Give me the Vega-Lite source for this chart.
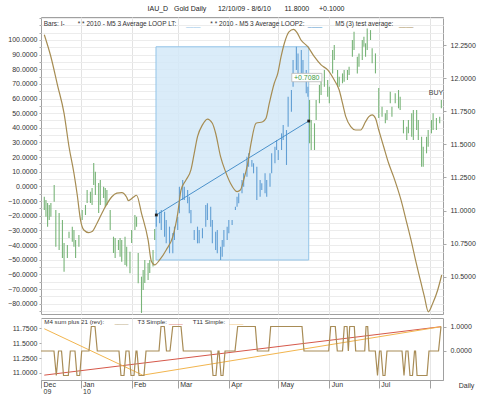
{
  "$schema": "https://vega.github.io/schema/vega-lite/v6.json",
  "background": "white",
  "padding": {"left": 4, "right": 4, "top": 4, "bottom": 0},
  "title": {"text": "IAU_D\u00a0\u00a0\u00a0Gold Daily\u00a0\u00a0\u00a0\u00a0\u00a0\u00a012/10/09 - 8/6/10\u00a0\u00a0\u00a0\u00a0\u00a0\u00a0\u00a011.8000\u00a0\u00a0\u00a0\u00a0\u00a0+0.1000", "fontSize": 7, "fontWeight": "normal", "color": "#222", "anchor": "middle", "offset": 5},
  "config": {
    "view": {"stroke": "#a0a0a0", "strokeWidth": 1},
    "axis": {"labelFont": "Liberation Sans", "labelFontSize": 7, "labelColor": "#333", "tickColor": "#aaa", "domain": false, "titleFont": "Liberation Sans"},
    "text": {"font": "Liberation Sans"},
    "title": {"font": "Liberation Sans"}
  },
  "spacing": 2,
  "datasets": {
    "bars": [
      {"d":"2009-12-10","hi":11.104,"lo":11.004},{"d":"2009-12-11","hi":11.079,"lo":10.953},{"d":"2009-12-12","hi":11.057,"lo":10.878},{"d":"2009-12-13","hi":11.042,"lo":10.928},{"d":"2009-12-14","hi":11.057,"lo":10.953},{"d":"2009-12-16","hi":11.193,"lo":11.067},{"d":"2009-12-17","hi":11.004,"lo":10.727},{"d":"2009-12-19","hi":10.981,"lo":10.702},{"d":"2009-12-21","hi":10.928,"lo":10.641},{"d":"2009-12-22","hi":10.755,"lo":10.538},{"d":"2009-12-24","hi":10.739,"lo":10.641},{"d":"2009-12-25","hi":10.840,"lo":10.792},{"d":"2009-12-27","hi":10.878,"lo":10.764},{"d":"2009-12-28","hi":10.853,"lo":10.727},{"d":"2009-12-29","hi":10.777,"lo":10.641},{"d":"2009-12-31","hi":10.815,"lo":10.727},
      {"d":"2010-01-02","hi":11.004,"lo":10.928},{"d":"2010-01-04","hi":11.042,"lo":10.966},{"d":"2010-01-05","hi":11.155,"lo":11.057},{"d":"2010-01-07","hi":11.142,"lo":11.057},{"d":"2010-01-08","hi":11.170,"lo":11.042},{"d":"2010-01-09","hi":11.359,"lo":11.193},{"d":"2010-01-10","hi":11.293,"lo":11.117},{"d":"2010-01-12","hi":11.208,"lo":10.981},{"d":"2010-01-13","hi":11.230,"lo":11.042},{"d":"2010-01-15","hi":11.180,"lo":11.095},{"d":"2010-01-16","hi":11.170,"lo":11.029},{"d":"2010-01-17","hi":11.155,"lo":11.042},{"d":"2010-01-19","hi":11.004,"lo":10.853},{"d":"2010-01-21","hi":10.802,"lo":10.679},{"d":"2010-01-22","hi":10.792,"lo":10.641},{"d":"2010-01-24","hi":10.777,"lo":10.702},{"d":"2010-01-25","hi":10.792,"lo":10.651},{"d":"2010-01-26","hi":10.777,"lo":10.613},{"d":"2010-01-28","hi":10.802,"lo":10.588},{"d":"2010-01-29","hi":10.727,"lo":10.576},{"d":"2010-01-31","hi":10.689,"lo":10.526},
      {"d":"2010-02-01","hi":10.853,"lo":10.755},{"d":"2010-02-03","hi":10.966,"lo":10.853},{"d":"2010-02-04","hi":10.953,"lo":10.878},{"d":"2010-02-05","hi":10.679,"lo":10.450},{"d":"2010-02-07","hi":10.500,"lo":10.226},{"d":"2010-02-08","hi":10.551,"lo":10.400},{"d":"2010-02-09","hi":10.626,"lo":10.452},{"d":"2010-02-11","hi":10.604,"lo":10.475},{"d":"2010-02-12","hi":10.626,"lo":10.528},{"d":"2010-02-14","hi":10.702,"lo":10.576},{"d":"2010-02-15","hi":10.860,"lo":10.777},
      {"d":"2010-02-16","hi":11.004,"lo":10.878},{"d":"2010-02-18","hi":10.991,"lo":10.903},{"d":"2010-02-19","hi":11.004,"lo":10.853},{"d":"2010-02-21","hi":10.991,"lo":10.802},{"d":"2010-02-22","hi":10.928,"lo":10.752},{"d":"2010-02-24","hi":10.878,"lo":10.677},{"d":"2010-02-26","hi":10.830,"lo":10.677},{"d":"2010-02-27","hi":10.878,"lo":10.777},
      {"d":"2010-03-01","hi":10.953,"lo":10.853},{"d":"2010-03-02","hi":11.180,"lo":10.979},{"d":"2010-03-04","hi":11.230,"lo":11.079},{"d":"2010-03-05","hi":11.180,"lo":11.079},{"d":"2010-03-07","hi":11.155,"lo":11.054},{"d":"2010-03-08","hi":11.104,"lo":10.979},{"d":"2010-03-09","hi":11.004,"lo":10.903},{"d":"2010-03-11","hi":10.853,"lo":10.777},{"d":"2010-03-13","hi":10.878,"lo":10.752},{"d":"2010-03-14","hi":10.853,"lo":10.752},{"d":"2010-03-16","hi":10.866,"lo":10.790},{"d":"2010-03-18","hi":11.042,"lo":10.878},{"d":"2010-03-19","hi":11.054,"lo":10.928},{"d":"2010-03-21","hi":11.029,"lo":10.878},{"d":"2010-03-22","hi":10.928,"lo":10.752},{"d":"2010-03-24","hi":10.840,"lo":10.702},{"d":"2010-03-25","hi":10.853,"lo":10.677},{"d":"2010-03-27","hi":10.727,"lo":10.626},{"d":"2010-03-28","hi":10.777,"lo":10.651},{"d":"2010-03-29","hi":10.853,"lo":10.727},{"d":"2010-03-31","hi":10.878,"lo":10.777},
      {"d":"2010-04-01","hi":10.928,"lo":10.828},{"d":"2010-04-03","hi":10.928,"lo":10.891},{"d":"2010-04-05","hi":11.029,"lo":11.004},{"d":"2010-04-06","hi":11.104,"lo":11.029},{"d":"2010-04-07","hi":11.130,"lo":11.054},{"d":"2010-04-09","hi":11.230,"lo":11.130},{"d":"2010-04-10","hi":11.281,"lo":11.180},{"d":"2010-04-12","hi":11.406,"lo":11.255},{"d":"2010-04-13","hi":11.432,"lo":11.331},{"d":"2010-04-15","hi":11.382,"lo":11.331},{"d":"2010-04-16","hi":11.357,"lo":11.281},{"d":"2010-04-18","hi":11.331,"lo":11.079},{"d":"2010-04-20","hi":11.230,"lo":11.104},{"d":"2010-04-21","hi":11.206,"lo":11.155},{"d":"2010-04-23","hi":11.281,"lo":11.130},{"d":"2010-04-24","hi":11.230,"lo":11.104},{"d":"2010-04-26","hi":11.281,"lo":11.180},{"d":"2010-04-27","hi":11.432,"lo":11.281},{"d":"2010-04-29","hi":11.482,"lo":11.357},{"d":"2010-04-30","hi":11.533,"lo":11.457},
      {"d":"2010-05-01","hi":11.457,"lo":11.382},{"d":"2010-05-03","hi":11.583,"lo":11.457},{"d":"2010-05-04","hi":11.646,"lo":11.533},{"d":"2010-05-06","hi":11.608,"lo":11.344},{"d":"2010-05-07","hi":11.860,"lo":11.633},{"d":"2010-05-09","hi":11.910,"lo":11.746},{"d":"2010-05-10","hi":12.137,"lo":11.935},{"d":"2010-05-12","hi":12.237,"lo":12.061},{"d":"2010-05-13","hi":12.187,"lo":12.011},{"d":"2010-05-15","hi":12.212,"lo":12.036},{"d":"2010-05-16","hi":12.137,"lo":11.986},{"d":"2010-05-18","hi":12.061,"lo":11.885},{"d":"2010-05-19","hi":11.935,"lo":11.860},
      {"d":"2010-05-20","hi":11.835,"lo":11.508},{"d":"2010-05-21","hi":11.684,"lo":11.457},{"d":"2010-05-23","hi":11.659,"lo":11.457},{"d":"2010-05-24","hi":11.835,"lo":11.684},{"d":"2010-05-26","hi":11.948,"lo":11.810},{"d":"2010-05-27","hi":12.011,"lo":11.872},{"d":"2010-05-29","hi":12.061,"lo":11.935},{"d":"2010-05-31","hi":11.986,"lo":11.860},
      {"d":"2010-06-01","hi":11.935,"lo":11.810},{"d":"2010-06-03","hi":12.212,"lo":12.036},{"d":"2010-06-04","hi":12.250,"lo":12.137},{"d":"2010-06-06","hi":12.061,"lo":11.935},{"d":"2010-06-07","hi":12.011,"lo":11.935},{"d":"2010-06-09","hi":12.036,"lo":11.961},{"d":"2010-06-10","hi":12.061,"lo":11.973},{"d":"2010-06-12","hi":12.061,"lo":11.986},{"d":"2010-06-13","hi":12.086,"lo":12.024},{"d":"2010-06-15","hi":12.288,"lo":12.162},{"d":"2010-06-16","hi":12.351,"lo":12.212},{"d":"2010-06-18","hi":12.162,"lo":12.036},{"d":"2010-06-19","hi":12.187,"lo":12.086},{"d":"2010-06-21","hi":12.288,"lo":12.137},{"d":"2010-06-22","hi":12.313,"lo":12.237},{"d":"2010-06-23","hi":12.263,"lo":12.162},{"d":"2010-06-24","hi":12.376,"lo":12.212},{"d":"2010-06-26","hi":12.363,"lo":12.288},{"d":"2010-06-27","hi":12.225,"lo":12.112},{"d":"2010-06-29","hi":12.187,"lo":12.036},
      {"d":"2010-07-01","hi":11.925,"lo":11.699},{"d":"2010-07-03","hi":11.784,"lo":11.709},{"d":"2010-07-05","hi":11.734,"lo":11.659},{"d":"2010-07-06","hi":11.759,"lo":11.684},{"d":"2010-07-08","hi":11.897,"lo":11.810},{"d":"2010-07-09","hi":11.784,"lo":11.709},{"d":"2010-07-11","hi":11.885,"lo":11.810},{"d":"2010-07-13","hi":11.910,"lo":11.772},{"d":"2010-07-14","hi":11.860,"lo":11.759},{"d":"2010-07-16","hi":11.684,"lo":11.583},{"d":"2010-07-18","hi":11.633,"lo":11.533},{"d":"2010-07-19","hi":11.684,"lo":11.583},{"d":"2010-07-21","hi":11.734,"lo":11.557},{"d":"2010-07-22","hi":11.759,"lo":11.533},{"d":"2010-07-24","hi":11.759,"lo":11.608},{"d":"2010-07-25","hi":11.684,"lo":11.533},{"d":"2010-07-27","hi":11.557,"lo":11.331},{"d":"2010-07-28","hi":11.482,"lo":11.331},{"d":"2010-07-30","hi":11.557,"lo":11.432},{"d":"2010-07-31","hi":11.608,"lo":11.482},
      {"d":"2010-08-02","hi":11.684,"lo":11.583},{"d":"2010-08-03","hi":11.734,"lo":11.608},{"d":"2010-08-05","hi":11.699,"lo":11.608},{"d":"2010-08-07","hi":11.709,"lo":11.659},{"d":"2010-08-08","hi":11.835,"lo":11.772}
    ],
    "osc": [
      {"d":"2009-12-10","v":103.5},{"d":"2009-12-14","v":88.5},{"d":"2009-12-18","v":69.2},{"d":"2009-12-22","v":49.9},{"d":"2009-12-25","v":27.1},{"d":"2009-12-28","v":9.0},{"d":"2009-12-30","v":-5.8},{"d":"2010-01-01","v":-22.9},{"d":"2010-01-03","v":-29.7},{"d":"2010-01-06","v":-31.5},{"d":"2010-01-08","v":-30.8},{"d":"2010-01-11","v":-25.1},{"d":"2010-01-15","v":-16.0},{"d":"2010-01-20","v":-7.0},{"d":"2010-01-23","v":-4.6},{"d":"2010-01-26","v":-4.2},{"d":"2010-01-29","v":-7.4},{"d":"2010-01-30","v":-9.7},{"d":"2010-02-02","v":-7.4},{"d":"2010-02-04","v":-6.0},{"d":"2010-02-07","v":-18.3},{"d":"2010-02-11","v":-36.5},{"d":"2010-02-13","v":-51.0},{"d":"2010-02-15","v":-53.5},{"d":"2010-02-18","v":-50.1},{"d":"2010-02-22","v":-43.3},{"d":"2010-02-26","v":-34.2},{"d":"2010-03-01","v":-18.3},{"d":"2010-03-03","v":-2.4},{"d":"2010-03-06","v":4.4},{"d":"2010-03-09","v":11.3},{"d":"2010-03-11","v":22.6},{"d":"2010-03-13","v":34.0},{"d":"2010-03-16","v":42.0},{"d":"2010-03-19","v":46.0},{"d":"2010-03-22","v":43.1},{"d":"2010-03-24","v":36.3},{"d":"2010-03-27","v":20.3},{"d":"2010-03-30","v":10.1},{"d":"2010-04-02","v":2.2},{"d":"2010-04-06","v":-3.5},{"d":"2010-04-08","v":-2.4},{"d":"2010-04-10","v":4.4},{"d":"2010-04-12T12:00:00Z","v":15.8},{"d":"2010-04-14T12:00:00Z","v":29.5},{"d":"2010-04-17T12:00:00Z","v":43.1},{"d":"2010-04-21T14:00:00Z","v":44.2},{"d":"2010-04-23T14:00:00Z","v":46.5},{"d":"2010-04-25T14:00:00Z","v":56.8},{"d":"2010-04-28T14:00:00Z","v":70.4},{"d":"2010-04-30T17:00:00Z","v":77.2},{"d":"2010-05-02T17:00:00Z","v":88.5},{"d":"2010-05-04T17:00:00Z","v":97.7},{"d":"2010-05-07T12:00:00Z","v":105.5},{"d":"2010-05-10T07:00:00Z","v":107.2},{"d":"2010-05-12T10:00:00Z","v":105.0},{"d":"2010-05-14T19:00:00Z","v":99.9},{"d":"2010-05-18T22:00:00Z","v":95.4},{"d":"2010-05-22T22:00:00Z","v":88.5},{"d":"2010-05-27","v":82.9},{"d":"2010-05-31","v":79.5},{"d":"2010-06-04","v":72.6},{"d":"2010-06-07","v":65.8},{"d":"2010-06-09","v":56.8},{"d":"2010-06-11","v":47.6},{"d":"2010-06-14","v":40.8},{"d":"2010-06-17","v":38.5},{"d":"2010-06-20","v":38.5},{"d":"2010-06-23","v":44.2},{"d":"2010-06-25","v":47.6},{"d":"2010-06-27","v":48.8},{"d":"2010-06-29","v":46.5},{"d":"2010-07-01","v":38.5},{"d":"2010-07-04","v":27.1},{"d":"2010-07-07","v":15.8},{"d":"2010-07-10","v":6.7},{"d":"2010-07-14T12:00:00Z","v":-9.2},{"d":"2010-07-17T14:00:00Z","v":-22.9},{"d":"2010-07-20T14:00:00Z","v":-36.5},{"d":"2010-07-23T14:00:00Z","v":-51.5},{"d":"2010-07-26T17:00:00Z","v":-66.0},{"d":"2010-07-28T17:00:00Z","v":-75.2},{"d":"2010-07-31T02:00:00Z","v":-85.5},{"d":"2010-08-02T19:00:00Z","v":-79.7},{"d":"2010-08-05T19:00:00Z","v":-70.6},{"d":"2010-08-08T05:00:00Z","v":-60.4}
    ],
    "step": [
      {"d":"2009-12-08T00:00:00Z","s":0},{"d":"2009-12-15T21:00:00Z","s":0},{"d":"2009-12-17T07:00:00Z","s":-1},{"d":"2009-12-18T15:00:00Z","s":0},{"d":"2009-12-20T11:00:00Z","s":0},{"d":"2009-12-21T16:00:00Z","s":-1},{"d":"2009-12-24T14:00:00Z","s":-1},{"d":"2009-12-25T19:00:00Z","s":0},{"d":"2009-12-28T15:00:00Z","s":0},{"d":"2009-12-29T20:00:00Z","s":-1},{"d":"2009-12-31T12:00:00Z","s":-1},{"d":"2010-01-01T17:00:00Z","s":0},{"d":"2010-01-06T03:00:00Z","s":0},{"d":"2010-01-07T13:00:00Z","s":1},{"d":"2010-01-09T19:00:00Z","s":1},{"d":"2010-01-11T04:00:00Z","s":0},{"d":"2010-01-24T08:00:00Z","s":0},{"d":"2010-01-25T13:00:00Z","s":-1},{"d":"2010-01-27T09:00:00Z","s":-1},{"d":"2010-01-28T14:00:00Z","s":0},{"d":"2010-01-30T10:00:00Z","s":0},{"d":"2010-01-31T15:00:00Z","s":-1},{"d":"2010-02-02T11:00:00Z","s":-1},{"d":"2010-02-03T16:00:00Z","s":0},{"d":"2010-02-04T06:00:00Z","s":0},{"d":"2010-02-05T12:00:00Z","s":-1},{"d":"2010-02-08T12:00:00Z","s":-1},{"d":"2010-02-09T18:00:00Z","s":0},{"d":"2010-02-17T15:00:00Z","s":0},{"d":"2010-02-18T20:00:00Z","s":1},{"d":"2010-02-20T20:00:00Z","s":1},{"d":"2010-02-22T04:00:00Z","s":0},{"d":"2010-02-24T07:00:00Z","s":0},{"d":"2010-02-25T23:00:00Z","s":1},{"d":"2010-03-02T23:30:00Z","s":1},{"d":"2010-03-04T09:00:00Z","s":0},{"d":"2010-03-21T05:00:00Z","s":0},{"d":"2010-03-22T10:00:00Z","s":-1},{"d":"2010-03-24T05:00:00Z","s":-1},{"d":"2010-03-25T11:00:00Z","s":0},{"d":"2010-03-26T01:00:00Z","s":0},{"d":"2010-03-27T06:00:00Z","s":-1},{"d":"2010-03-28T11:00:00Z","s":-1},{"d":"2010-03-29T17:00:00Z","s":0},{"d":"2010-04-04T18:00:00Z","s":0},{"d":"2010-04-06T09:00:00Z","s":1},{"d":"2010-04-17T02:00:00Z","s":1},{"d":"2010-04-18T07:00:00Z","s":0},{"d":"2010-04-25T05:00:00Z","s":0},{"d":"2010-04-26T10:00:00Z","s":1},{"d":"2010-05-15T10:00:00Z","s":1},{"d":"2010-05-16T15:00:00Z","s":0},{"d":"2010-05-31T15:00:00Z","s":0},{"d":"2010-06-01T20:00:00Z","s":1},{"d":"2010-06-04T15:00:00Z","s":1},{"d":"2010-06-05T20:00:00Z","s":0},{"d":"2010-06-09T00:00:00Z","s":0},{"d":"2010-06-10T02:00:00Z","s":1},{"d":"2010-06-11T18:00:00Z","s":1},{"d":"2010-06-12T13:00:00Z","s":0},{"d":"2010-06-13T09:00:00Z","s":1},{"d":"2010-06-16T04:00:00Z","s":1},{"d":"2010-06-17T00:00:00Z","s":0},{"d":"2010-06-22T12:00:00Z","s":0},{"d":"2010-06-23T07:00:00Z","s":1},{"d":"2010-06-24T07:00:00Z","s":1},{"d":"2010-06-25T02:00:00Z","s":0},{"d":"2010-06-28T22:00:00Z","s":0},{"d":"2010-06-30T06:00:00Z","s":-1},{"d":"2010-07-01T11:00:00Z","s":0},{"d":"2010-07-02T09:00:00Z","s":0},{"d":"2010-07-03T14:00:00Z","s":-1},{"d":"2010-07-04T19:00:00Z","s":-1},{"d":"2010-07-06T00:00:00Z","s":0},{"d":"2010-07-15T03:00:00Z","s":0},{"d":"2010-07-16T08:00:00Z","s":-1},{"d":"2010-07-17T13:00:00Z","s":0},{"d":"2010-07-18T18:00:00Z","s":0},{"d":"2010-07-19T23:00:00Z","s":-1},{"d":"2010-07-21T12:00:00Z","s":-1},{"d":"2010-07-22T17:00:00Z","s":0},{"d":"2010-07-23T08:00:00Z","s":0},{"d":"2010-07-24T06:00:00Z","s":-1},{"d":"2010-07-30T07:00:00Z","s":-1},{"d":"2010-07-31T12:00:00Z","s":0},{"d":"2010-08-06T07:00:00Z","s":0},{"d":"2010-08-07T19:00:00Z","s":1}
    ],
    "trends": [
      {"d":"2009-12-10","p":10.96,"k":"T3 Simple"},{"d":"2010-08-07T19:00:00Z","p":11.78,"k":"T3 Simple"},
      {"d":"2009-12-10","p":11.745,"k":"T11 Simple"},{"d":"2010-02-07T17:00:00Z","p":10.96,"k":"T11 Simple"},{"d":"2010-08-07T19:00:00Z","p":11.78,"k":"T11 Simple"}
    ],
    "legendMain": [
      {"d":"2009-12-09T15:00:00Z","t":"Bars: I-","k":"text"},
      {"d":"2009-12-30T07:00:00Z","t":"* * 2010 - M5 3 Average LOOP LT:","k":"text"},
      {"d":"2010-03-06T00:00:00Z","t":"____","k":"LOOP LT"},
      {"d":"2010-03-20T19:00:00Z","t":"* * 2010 - M5 3 Average LOOP2:","k":"text"},
      {"d":"2010-05-18T22:00:00Z","t":"____","k":"LOOP2"},
      {"d":"2010-06-04T14:00:00Z","t":"M5 (3) test average:","k":"text"},
      {"d":"2010-07-13T07:00:00Z","t":"____","k":"test average"}
    ],
    "legendLow": [
      {"d":"2009-12-10T00:00:00Z","t":"M4 sum plus 21 (rev):","k":"text"},
      {"d":"2010-01-21T17:00:00Z","t":"____","k":"M4"},
      {"d":"2010-02-04T12:00:00Z","t":"T3 Simple:","k":"text"},
      {"d":"2010-02-23T17:00:00Z","t":"____","k":"T3"},
      {"d":"2010-03-10T02:00:00Z","t":"T11 Simple:","k":"text"},
      {"d":"2010-04-01T12:00:00Z","t":"____","k":"T11"}
    ]
  },
  "vconcat": [
    {
      "width": 402,
      "height": 297,
      "layer": [
        {
          "layer": [
            {
              "data": {"values": [{"d1":"2010-02-15T19:00:00Z","d2":"2010-05-19T12:00:00Z","p1":10.626,"p2":12.237}]},
              "mark": {"type": "rect", "fill": "#d4e9f8", "fillOpacity": 0.85, "stroke": "#92c4e8", "strokeWidth": 1},
              "encoding": {
                "x": {"field": "d1", "type": "temporal"},
                "x2": {"field": "d2"},
                "y": {"field": "p1", "type": "quantitative"},
                "y2": {"field": "p2"}
              }
            },
            {
              "data": {"name": "bars"},
              "mark": {"type": "rule", "strokeWidth": 1.1},
              "encoding": {
                "x": {"field": "d", "type": "temporal",
                  "scale": {"type": "utc", "nice": false, "domain": [{"year":2009,"month":12,"date":8,"utc":true},{"year":2010,"month":8,"date":9,"utc":true}]},
                  "axis": {"title": null, "labels": false, "ticks": false, "domain": false, "grid": true, "gridColor": "#e3e3e3",
                    "values": [{"year":2010,"month":1,"date":1,"utc":true},{"year":2010,"month":2,"date":1,"utc":true},{"year":2010,"month":3,"date":1,"utc":true},{"year":2010,"month":4,"date":1,"utc":true},{"year":2010,"month":5,"date":1,"utc":true},{"year":2010,"month":6,"date":1,"utc":true},{"year":2010,"month":7,"date":1,"utc":true},{"year":2010,"month":8,"date":1,"utc":true}]}},
                "y": {"field": "lo", "type": "quantitative",
                  "scale": {"domain": [10.218, 12.462], "nice": false, "zero": false},
                  "axis": {"orient": "right", "title": null, "grid": false, "format": ".4f", "values": [10.5, 10.75, 11, 11.25, 11.5, 11.75, 12, 12.25], "tickSize": 3, "labelPadding": 4, "minExtent": 44, "maxExtent": 44}},
                "y2": {"field": "hi"},
                "color": {"condition": {"test": "datum.d >= toDate('2010-02-16') && datum.d <= toDate('2010-05-19')", "value": "#629fd4"}, "value": "#78b478"}
              }
            },
            {
              "data": {"values": [{"d":"2010-02-16","p":10.966},{"d":"2010-05-19T12:00:00Z","p":11.676}]},
              "layer": [
                {"mark": {"type": "line", "color": "#4a91cb", "strokeWidth": 1}, "encoding": {"x": {"field": "d", "type": "temporal"}, "y": {"field": "p", "type": "quantitative"}}},
                {"mark": {"type": "square", "color": "#222", "size": 8, "opacity": 1}, "encoding": {"x": {"field": "d", "type": "temporal"}, "y": {"field": "p", "type": "quantitative"}}}
              ]
            },
            {
              "data": {"values": [{"d1":"2010-05-09T05:00:00Z","d2":"2010-05-27T12:00:00Z","p1":11.973,"p2":12.036}]},
              "mark": {"type": "rect", "fill": "white", "stroke": "#b8b8b8", "strokeWidth": 0.8},
              "encoding": {"x": {"field": "d1", "type": "temporal"}, "x2": {"field": "d2"}, "y": {"field": "p1", "type": "quantitative"}, "y2": {"field": "p2"}}
            },
            {
              "data": {"values": [{"d":"2010-05-18T06:00:00Z","p":12.004,"t":"+0.7080"}]},
              "mark": {"type": "text", "color": "#3e9a3e", "fontSize": 7, "align": "center", "baseline": "middle"},
              "encoding": {"x": {"field": "d", "type": "temporal"}, "y": {"field": "p", "type": "quantitative"}, "text": {"field": "t"}}
            },
            {
              "data": {"values": [{"d":"2010-08-04T19:00:00Z","p":11.89,"t":"BUY"}]},
              "mark": {"type": "text", "color": "#444", "fontSize": 7, "align": "center", "baseline": "middle"},
              "encoding": {"x": {"field": "d", "type": "temporal"}, "y": {"field": "p", "type": "quantitative"}, "text": {"field": "t"}}
            },
            {
              "data": {"name": "legendMain"},
              "mark": {"type": "text", "fontSize": 6.5, "align": "left", "baseline": "middle"},
              "encoding": {
                "x": {"field": "d", "type": "temporal"},
                "y": {"datum": 12.409, "type": "quantitative"},
                "text": {"field": "t"},
                "color": {"field": "k", "type": "nominal", "legend": null, "scale": {"domain": ["text", "LOOP LT", "LOOP2", "test average"], "range": ["#333333", "#8cc0e6", "#4a91cb", "#a48a50"]}}
              }
            }
          ]
        },
        {
          "data": {"name": "osc"},
          "mark": {"type": "line", "interpolate": "monotone", "color": "#a68c52", "strokeWidth": 1.2},
          "encoding": {
            "x": {"field": "d", "type": "temporal"},
            "y": {"field": "v", "type": "quantitative",
              "scale": {"domain": [-87.0, 115.6], "nice": false, "zero": false},
              "axis": {"orient": "left", "title": null, "grid": true, "gridColor": "#ececec", "values": [-85,-80,-75,-70,-65,-60,-55,-50,-45,-40,-35,-30,-25,-20,-15,-10,-5,0,5,10,15,20,25,30,35,40,45,50,55,60,65,70,75,80,85,90,95,100,105,110,115],
                "labelExpr": "datum.value % 10 == 0 && datum.value >= -80 && datum.value <= 100 ? format(datum.value, '.4f') : ''", "tickSize": 2, "labelPadding": 2, "minExtent": 36, "maxExtent": 36}}
          }
        }
      ],
      "resolve": {"scale": {"y": "independent"}}
    },
    {
      "width": 402,
      "height": 62,
      "layer": [
        {
          "data": {"name": "trends"},
          "mark": {"type": "line", "strokeWidth": 1},
          "encoding": {
            "x": {"field": "d", "type": "temporal",
              "scale": {"type": "utc", "nice": false, "domain": [{"year":2009,"month":12,"date":8,"utc":true},{"year":2010,"month":8,"date":9,"utc":true}]},
              "axis": {"title": "Daily", "titleFontSize": 7, "titleFontWeight": "normal", "titleColor": "#333", "titleX": 425, "titleY": 1, "titleAlign": "center", "titleBaseline": "top", "titleAnchor": null,
                "grid": true, "gridColor": "#e6e6e6", "domain": true, "domainColor": "#a0a0a0", "tickSize": 8, "tickColor": "#a0a0a0",
                "labelAlign": "left", "labelBaseline": "top", "labelOffset": 2, "labelPadding": -8, "labelLineHeight": 7.5, "labelFlush": false, "labelOverlap": false, "labelBound": false,
                "values": [{"year":2009,"month":12,"date":8,"utc":true},{"year":2010,"month":1,"date":1,"utc":true},{"year":2010,"month":2,"date":1,"utc":true},{"year":2010,"month":3,"date":1,"utc":true},{"year":2010,"month":4,"date":1,"utc":true},{"year":2010,"month":5,"date":1,"utc":true},{"year":2010,"month":6,"date":1,"utc":true},{"year":2010,"month":7,"date":1,"utc":true},{"year":2010,"month":8,"date":1,"utc":true}],
                "labelExpr": "utcmonth(datum.value) == 11 ? ['Dec', '09'] : utcmonth(datum.value) == 0 ? ['Jan', '10'] : utcmonth(datum.value) == 7 ? '' : utcFormat(datum.value, '%b')"}},
            "y": {"field": "p", "type": "quantitative",
              "scale": {"domain": [10.878, 11.927], "nice": false, "zero": false},
              "axis": {"orient": "left", "title": null, "grid": false, "format": ".4f", "values": [11, 11.25, 11.5, 11.75], "tickSize": 2, "labelPadding": 2, "minExtent": 36, "maxExtent": 36}},
            "color": {"field": "k", "type": "nominal", "legend": null, "scale": {"domain": ["T3 Simple", "T11 Simple"], "range": ["#d6584a", "#f2b54e"]}}
          }
        },
        {
          "layer": [
            {
              "data": {"name": "step"},
              "mark": {"type": "line", "color": "#a88c56", "strokeWidth": 1.2},
              "encoding": {
                "x": {"field": "d", "type": "temporal"},
                "y": {"field": "s", "type": "quantitative",
                  "scale": {"domain": [-1.184, 1.347], "nice": false, "zero": false},
                  "axis": {"orient": "right", "title": null, "grid": false, "format": ".4f", "values": [0, 1], "tickSize": 3, "labelPadding": 4, "minExtent": 44, "maxExtent": 44}}
              }
            },
            {
              "data": {"name": "legendLow"},
              "mark": {"type": "text", "fontSize": 6.2, "align": "left", "baseline": "middle"},
              "encoding": {
                "x": {"field": "d", "type": "temporal"},
                "y": {"datum": 1.204, "type": "quantitative"},
                "text": {"field": "t"},
                "color": {"field": "k", "type": "nominal", "legend": null, "scale": {"domain": ["text", "M4", "T3", "T11"], "range": ["#333333", "#a88c56", "#d6584a", "#f2b54e"]}}
              }
            }
          ]
        }
      ],
      "resolve": {"scale": {"y": "independent", "color": "independent"}}
    }
  ]
}
